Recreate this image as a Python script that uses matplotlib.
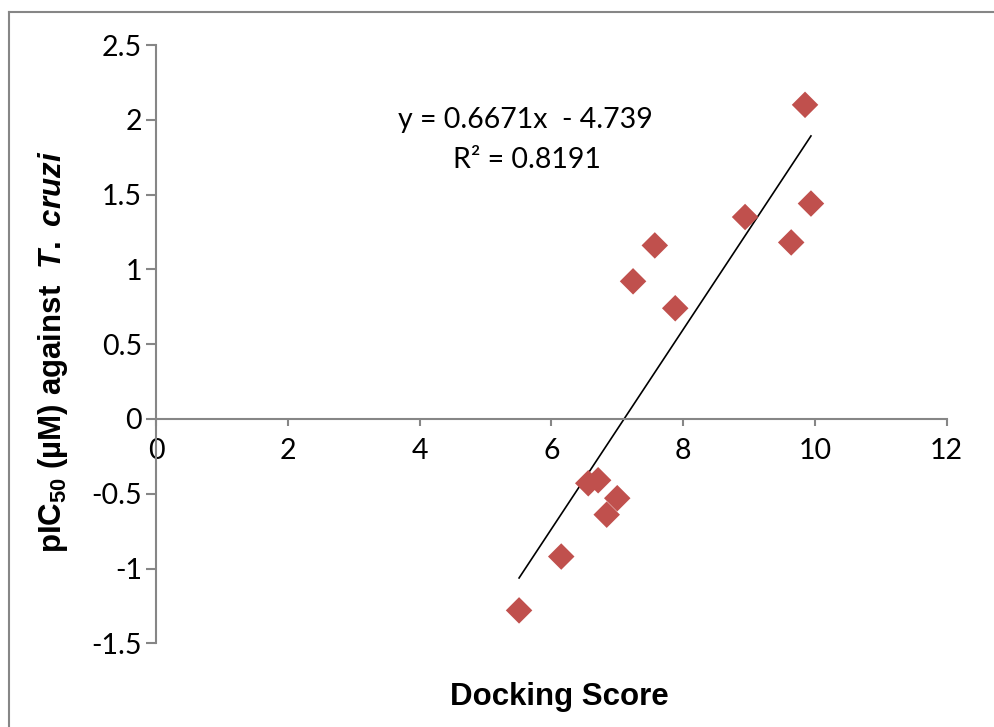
import matplotlib
matplotlib.use("Agg")
import matplotlib.pyplot as plt
from matplotlib.ticker import FuncFormatter, MultipleLocator
from matplotlib.lines import Line2D

plt.rcParams["axes.unicode_minus"] = False
plt.rcParams["mathtext.fontset"] = "custom"
plt.rcParams["mathtext.rm"] = "Liberation Sans:bold"
plt.rcParams["mathtext.bf"] = "Liberation Sans:bold"
plt.rcParams["mathtext.it"] = "Liberation Sans:italic:bold"

# data
docking_score = [9.85, 9.94, 9.64, 8.94, 7.57, 7.24, 7.88, 6.56, 6.71, 7.00, 6.84, 6.15, 5.51]
pic50 = [2.10, 1.44, 1.18, 1.35, 1.16, 0.92, 0.74, -0.43, -0.41, -0.53, -0.64, -0.92, -1.28]
slope = 0.6671
intercept = -4.739
r2 = 0.8191

W, H = 994, 727
fig = plt.figure(figsize=(W / 100, H / 100), dpi=100)
ax = fig.add_axes([156 / W, 1 - 643.3 / H, (946.7 - 156) / W, (643.3 - 45) / H])

GRAY = "#868686"
TICK_FONT = "Lato"
TICK_SIZE = 20.5

ax.scatter(docking_score, pic50, marker="D", s=13.5 ** 2, color="#C0504D",
           edgecolors="none", zorder=3)

x0, x1 = min(docking_score), max(docking_score)
ax.plot([x0, x1], [slope * x0 + intercept, slope * x1 + intercept],
        color="black", lw=1.2, zorder=2)

ax.set_xlim(0, 12)
ax.set_ylim(-1.5, 2.5)
ax.xaxis.set_major_locator(MultipleLocator(2))
ax.yaxis.set_major_locator(MultipleLocator(0.5))
fmt = FuncFormatter(lambda v, p: "%g" % v)
ax.xaxis.set_major_formatter(fmt)
ax.yaxis.set_major_formatter(fmt)

for s in ["top", "right"]:
    ax.spines[s].set_visible(False)
ax.spines["bottom"].set_position(("data", 0))
for s in ["bottom", "left"]:
    ax.spines[s].set_color(GRAY)
    ax.spines[s].set_linewidth(1.5)

ax.tick_params(axis="y", direction="out", length=7, width=1.5, color=GRAY, pad=3)
ax.tick_params(axis="x", direction="out", length=5, width=1.5, color=GRAY, pad=9)
for lab in ax.get_xticklabels() + ax.get_yticklabels():
    lab.set_fontfamily(TICK_FONT)
    lab.set_fontsize(TICK_SIZE)
    lab.set_color("black")

fig.text(525 / W, 1 - 120 / H, "y = 0.6671x  - 4.739", ha="center", va="center",
         fontsize=TICK_SIZE, family=TICK_FONT)
fig.text(527 / W, 1 - 160 / H, "R² = %.4f" % r2, ha="center", va="center",
         fontsize=TICK_SIZE, family=TICK_FONT)

fig.text(559 / W, 1 - 697 / H, "Docking Score", ha="center", va="center",
         fontsize=22.5, family="Liberation Sans", fontweight="bold")
fig.text(53 / W, 1 - 352 / H, r"pIC$_{50}$ (µM) against  $\mathit{T.}$ $\mathit{cruzi}$",
         ha="center", va="center", rotation=90, fontsize=22.5,
         family="Liberation Sans", fontweight="bold")

# chart-area border (left and top edges visible)
fig.add_artist(Line2D([8.5 / W, 8.5 / W], [0, 1 - 11.5 / H], transform=fig.transFigure,
                      color=GRAY, lw=1.5))
fig.add_artist(Line2D([8.5 / W, 1], [1 - 11.5 / H, 1 - 11.5 / H], transform=fig.transFigure,
                      color=GRAY, lw=1.5))

fig.savefig("out.png", dpi=100, facecolor="white")
